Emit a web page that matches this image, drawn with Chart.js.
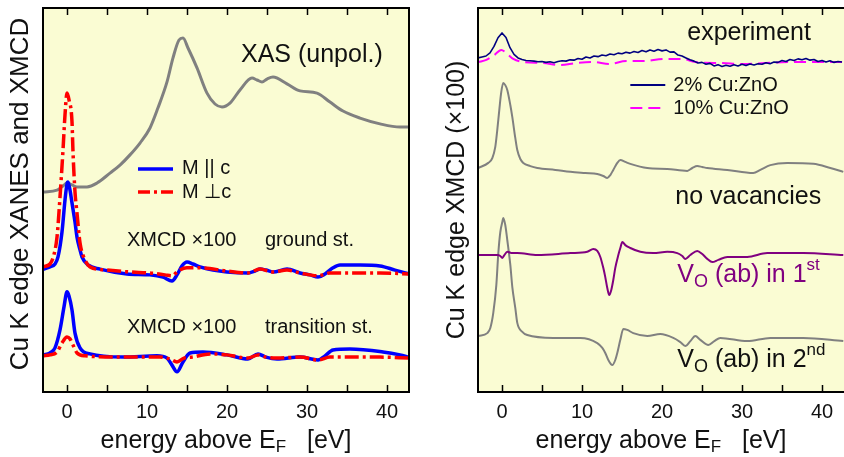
<!DOCTYPE html>
<html>
<head>
<meta charset="utf-8">
<script src="https://cdn.jsdelivr.net/npm/chart.js@4/dist/chart.umd.min.js"></script>
<style>
  html, body { margin: 0; padding: 0; background: #ffffff; }
  #wrap { position: relative; width: 844px; height: 457px; overflow: hidden; }
  .pane { position: absolute; top: 0; width: 422px; height: 457px; }
  #left { left: 0; }
  #right { left: 422px; }
</style>
</head>
<body>
<div id="wrap">
  <div class="pane" id="left"><canvas id="cLeft" width="422" height="457"></canvas></div>
  <div class="pane" id="right"><canvas id="cRight" width="422" height="457"></canvas></div>
</div>
<script>
// ---------- energy axis ----------
const tickValues = [0, 10, 20, 30, 40];
const minorTicks = [0, 5, 10, 15, 20, 25, 30, 35, 40];

// ---------- left panel: XANES + XMCD (offset, arb. units) ----------
const xasE = [-3, -1.25, -0.5, 0, 0.625, 1.25, 2.5, 3.75, 5.375, 6.625, 7.875, 9.125, 10.375, 11.375, 12.5, 13.25, 14, 14.5, 15.125, 16.25, 17.5, 18.5, 19.375, 20.375, 21.625, 23.125, 23.75, 24.375, 25, 25.75, 27.5, 29.125, 31.25, 32.875, 34.5, 36.625, 39.125, 41.625, 42.75];
const xasY = [6.25, 6.31, 6.44, 6.53, 6.47, 6.41, 6.41, 6.53, 6.84, 7.09, 7.41, 7.78, 8.25, 8.88, 9.69, 10.44, 11.0, 11.06, 10.75, 10.13, 9.34, 9.0, 8.91, 9.03, 9.44, 9.81, 9.75, 9.69, 9.78, 9.84, 9.63, 9.41, 9.34, 9.06, 8.78, 8.56, 8.38, 8.28, 8.28];

// ground state, M || c
const gsParE = [-3, -2.125, -1.5, -1.125, -0.625, -0.25, 0, 0.125, 0.375, 0.625, 1.0, 1.25, 1.625, 1.875, 2.625, 4.125, 7.5, 10.375, 12, 13.125, 13.75, 14.375, 15, 15.75, 16.625, 18.25, 20, 22.625, 23.5, 24.125, 24.875, 25.75, 27.5, 29.125, 30.375, 31.375, 32.25, 33.25, 34.125, 34.5, 36.625, 39.125, 41, 42.75];
const gsParY = [3.84, 3.91, 4.0, 4.22, 5.0, 6.0, 6.5, 6.56, 6.31, 5.91, 5.31, 4.84, 4.44, 4.22, 3.97, 3.84, 3.69, 3.66, 3.59, 3.47, 3.66, 3.94, 4.06, 4.0, 3.91, 3.81, 3.75, 3.72, 3.78, 3.84, 3.81, 3.75, 3.84, 3.72, 3.66, 3.59, 3.69, 3.88, 3.97, 3.97, 3.97, 3.94, 3.81, 3.69];

// ground state, M perpendicular to c
const gsPerpE = [-3, -2.125, -1.75, -1.25, -0.875, -0.5, -0.25, 0, 0.25, 0.625, 0.75, 1.0, 1.25, 1.625, 2.25, 2.875, 5, 7.875, 10.375, 12.25, 13.125, 13.875, 15, 16.625, 20, 22.625, 24.125, 25.75, 27.5, 29.125, 31.375, 32.875, 36.625, 39.125, 42.75];
const gsPerpY = [3.91, 4.0, 4.19, 4.84, 6.09, 7.56, 8.66, 9.34, 9.13, 8.44, 7.5, 6.25, 5.59, 4.66, 4.13, 3.91, 3.81, 3.75, 3.72, 3.66, 3.63, 3.78, 3.88, 3.88, 3.78, 3.72, 3.84, 3.75, 3.81, 3.72, 3.63, 3.72, 3.72, 3.72, 3.69];

// transition state, M || c
const tsParE = [-3, -2.125, -1.5, -0.875, -0.375, 0, 0.25, 0.625, 1.0, 1.625, 2.875, 7, 11.25, 12.5, 13.125, 13.75, 14.5, 15.375, 17, 20, 22.625, 23.875, 24.875, 26.25, 29.125, 31.375, 32.25, 33.25, 35.375, 39.5, 41.625, 42.75];
const tsParY = [1.16, 1.22, 1.38, 1.94, 2.66, 3.13, 3.0, 2.56, 1.84, 1.38, 1.19, 1.09, 1.13, 1.06, 0.84, 0.63, 0.94, 1.22, 1.25, 1.16, 1.03, 1.19, 1.09, 1.03, 1.09, 1.0, 1.13, 1.31, 1.34, 1.25, 1.16, 1.09];

// transition state, M perpendicular to c
const tsPerpE = [-3, -2.125, -1.25, -0.625, 0, 0.375, 0.75, 1.25, 2.25, 7, 11.625, 12.875, 13.75, 14.625, 15.625, 17.875, 20, 22.625, 23.875, 24.875, 26.25, 29.125, 31.375, 32.875, 36.625, 39.125, 42.75];
const tsPerpY = [1.13, 1.16, 1.25, 1.53, 1.72, 1.66, 1.47, 1.22, 1.13, 1.09, 1.09, 1.03, 0.94, 1.06, 1.09, 1.19, 1.16, 1.06, 1.16, 1.09, 1.06, 1.09, 1.0, 1.09, 1.09, 1.09, 1.06];

// ---------- right panel: XMCD x100 (offset, arb. units) ----------
const exp2E = [-3, -2.5, -2, -1.5, -1, -0.5, 0, 0.5, 1, 1.5, 2, 2.5, 3, 3.5, 4, 4.5, 5, 5.5, 6, 6.5, 7, 7.5, 8, 8.5, 9, 9.5, 10, 10.5, 11, 11.5, 12, 12.5, 13, 13.5, 14, 14.5, 15, 15.5, 16, 16.5, 17, 17.5, 18, 18.5, 19, 19.5, 20, 20.5, 21, 21.5, 22, 22.5, 23, 23.5, 24, 24.5, 25, 25.5, 26, 26.5, 27, 27.5, 28, 28.5, 29, 29.5, 30, 30.5, 31, 31.5, 32, 32.5, 33, 33.5, 34, 34.5, 35, 35.5, 36, 36.5, 37, 37.5, 38, 38.5, 39, 39.5, 40, 40.5, 41, 41.5, 42, 42.5];
const exp2Y = [10.44, 10.47, 10.50, 10.60, 10.80, 11.07, 11.22, 11.08, 10.76, 10.55,
               10.44, 10.39, 10.36, 10.35, 10.34, 10.32, 10.33, 10.30, 10.32, 10.29,
               10.33, 10.35, 10.34, 10.38, 10.37, 10.42, 10.40, 10.47, 10.44, 10.50,
               10.48, 10.53, 10.51, 10.56, 10.54, 10.59, 10.57, 10.62, 10.59, 10.64,
               10.61, 10.67, 10.63, 10.69, 10.65, 10.70, 10.66, 10.69, 10.62, 10.63,
               10.53, 10.50, 10.44, 10.38, 10.34, 10.28, 10.30, 10.24, 10.27, 10.19,
               10.23, 10.17, 10.21, 10.18, 10.23, 10.19, 10.24, 10.20, 10.25, 10.22,
               10.26, 10.24, 10.29, 10.26, 10.31, 10.30, 10.36, 10.33, 10.39, 10.36,
               10.41, 10.38, 10.42, 10.37, 10.39, 10.33, 10.36, 10.31, 10.35, 10.30,
               10.33, 10.31];

const exp10E = [-2.96, -1.96, -0.96, -0.09, 0.54, 1.41, 2.66, 5.16, 7.16, 9.29, 11.41, 13.41, 15.54, 17.66, 20.29, 22.54, 24.16, 27.54, 30.04, 32.91, 35.79, 38.29, 42.66];
const exp10Y = [10.31, 10.38, 10.53, 10.69, 10.59, 10.41, 10.31, 10.28, 10.22, 10.28, 10.31, 10.25, 10.34, 10.34, 10.41, 10.41, 10.31, 10.28, 10.25, 10.28, 10.31, 10.31, 10.31];

const noVacE = [-2.96, -1.71, -1.21, -0.84, -0.59, -0.34, -0.09, 0.16, 0.41, 0.66, 1.04, 1.29, 1.66, 1.91, 2.29, 2.66, 3.54, 4.41, 6.66, 8.54, 10.41, 11.91, 12.66, 13.16, 13.54, 13.91, 14.41, 14.79, 15.41, 16.04, 18.16, 20.66, 23.16, 23.79, 24.41, 25.04, 25.66, 28.16, 31.41, 32.29, 33.54, 35.66, 38.91, 41.04, 42.66];
const noVacY = [7.0, 7.16, 7.31, 7.66, 8.19, 8.81, 9.38, 9.66, 9.59, 9.44, 8.97, 8.59, 7.94, 7.56, 7.28, 7.16, 7.06, 7.0, 6.94, 6.88, 6.84, 6.81, 6.75, 6.69, 6.78, 6.94, 7.16, 7.25, 7.19, 7.13, 7.0, 6.97, 6.91, 7.0, 7.06, 7.03, 7.0, 6.94, 6.84, 6.94, 7.09, 7.16, 7.13, 7.0, 6.88];

const vo1E = [-2.96, -0.59, -0.21, 0.04, 0.29, 0.66, 1.29, 1.91, 4.41, 8.54, 10.66, 11.41, 11.91, 12.29, 12.66, 12.91, 13.16, 13.41, 13.66, 13.91, 14.16, 14.54, 14.79, 15.04, 15.41, 16.04, 17.29, 18.91, 20.66, 21.91, 22.54, 22.91, 23.54, 24.41, 25.04, 25.66, 26.29, 27.04, 28.16, 30.66, 33.16, 37.66, 42.66];
const vo1Y = [4.28, 4.28, 4.25, 4.19, 4.28, 4.38, 4.34, 4.34, 4.28, 4.34, 4.38, 4.47, 4.41, 4.22, 3.88, 3.59, 3.25, 3.03, 3.19, 3.5, 3.88, 4.28, 4.5, 4.69, 4.59, 4.5, 4.38, 4.34, 4.38, 4.34, 4.25, 4.16, 4.28, 4.41, 4.31, 4.16, 4.06, 4.13, 4.22, 4.22, 4.34, 4.34, 4.28];

const vo2E = [-2.96, -1.84, -1.46, -1.09, -0.71, -0.46, -0.21, 0.04, 0.16, 0.41, 0.66, 1.04, 1.29, 1.66, 1.91, 2.54, 3.16, 6.41, 9.79, 11.91, 12.54, 12.91, 13.29, 13.79, 14.16, 14.41, 14.79, 15.16, 15.66, 16.41, 18.16, 19.79, 21.41, 22.29, 22.91, 23.54, 24.16, 24.79, 25.79, 26.54, 27.29, 30.66, 33.54, 37.66, 42.66];
const vo2Y = [1.75, 1.84, 2.0, 2.47, 3.34, 4.34, 5.0, 5.31, 5.44, 5.22, 4.75, 3.97, 3.28, 2.63, 2.16, 1.88, 1.78, 1.69, 1.69, 1.53, 1.38, 1.22, 1.0, 0.84, 1.0, 1.22, 1.63, 1.97, 1.94, 1.84, 1.75, 1.81, 1.69, 1.56, 1.44, 1.59, 1.75, 1.63, 1.47, 1.59, 1.69, 1.59, 1.69, 1.69, 1.59];

// ---------- styling ----------
const FONT = '"Liberation Sans", Arial, Helvetica, sans-serif';
const PANEL_BG = '#FAFCD3';
const TEXT = '#111111';

function pts(xs, ys) { return xs.map((x, i) => ({ x: x, y: ys[i] })); }

function line(label, xs, ys, color, width, dash, smooth) {
  return {
    label: label,
    data: pts(xs, ys),
    borderColor: color,
    borderWidth: width,
    borderDash: dash || [],
    pointRadius: 0,
    fill: false,
    cubicInterpolationMode: smooth ? 'monotone' : 'default',
    tension: 0,
    borderCapStyle: 'butt',
    borderJoinStyle: 'round'
  };
}

// draws a run of text pieces left to right; each piece may be shifted/resized (sub/superscripts)
function richText(ctx, x, y, parts, color) {
  ctx.save();
  ctx.fillStyle = color || TEXT;
  ctx.textBaseline = 'middle';
  ctx.textAlign = 'left';
  let cx = x;
  parts.forEach(p => {
    ctx.font = p.size + 'px ' + FONT;
    ctx.fillText(p.t, cx, y + (p.dy || 0));
    cx += ctx.measureText(p.t).width;
  });
  ctx.restore();
  return cx - x;
}
function richWidth(ctx, parts) {
  let w = 0;
  ctx.save();
  parts.forEach(p => { ctx.font = p.size + 'px ' + FONT; w += ctx.measureText(p.t).width; });
  ctx.restore();
  return w;
}

function framePlugin(opts) {
  return {
    id: 'frame_' + opts.name,
    beforeDatasetsDraw(chart) {
      const a = chart.chartArea, ctx = chart.ctx;
      ctx.save();
      ctx.fillStyle = PANEL_BG;
      ctx.fillRect(a.left, a.top, a.right - a.left, a.bottom - a.top);
      ctx.restore();
    },
    afterDatasetsDraw(chart) {
      const a = chart.chartArea, ctx = chart.ctx;
      const xs = chart.scales.x, ys = chart.scales.y;
      ctx.save();
      // frame
      ctx.strokeStyle = '#000';
      ctx.lineWidth = 2;
      ctx.beginPath();
      if (opts.closedRight) {
        ctx.rect(a.left, a.top, a.right - a.left, a.bottom - a.top);
      } else {
        ctx.moveTo(a.right + 2, a.top); ctx.lineTo(a.left, a.top);
        ctx.lineTo(a.left, a.bottom); ctx.lineTo(a.right + 2, a.bottom);
      }
      ctx.stroke();
      // inward tick marks, top and bottom
      ctx.lineWidth = 1.5;
      ctx.beginPath();
      minorTicks.forEach(v => {
        const px = Math.round(xs.getPixelForValue(v)) + 0.5;
        ctx.moveTo(px, a.top); ctx.lineTo(px, a.top + 7);
        ctx.moveTo(px, a.bottom); ctx.lineTo(px, a.bottom - 7);
      });
      ctx.stroke();

      // legend swatches
      (opts.swatches || []).forEach(s => {
        ctx.save();
        ctx.strokeStyle = s.color; ctx.lineWidth = s.width; ctx.setLineDash(s.dash || []);
        ctx.beginPath();
        ctx.moveTo(xs.getPixelForValue(s.x0), ys.getPixelForValue(s.y));
        ctx.lineTo(xs.getPixelForValue(s.x1), ys.getPixelForValue(s.y));
        ctx.stroke();
        ctx.restore();
      });
      // annotations
      (opts.notes || []).forEach(n => {
        richText(ctx, xs.getPixelForValue(n.x), ys.getPixelForValue(n.y), n.parts, n.color);
      });

      // axis title below
      const tw = richWidth(ctx, opts.xTitle);
      richText(ctx, opts.xTitleCx - tw / 2, opts.xTitleY, opts.xTitle);
      // vertical axis title
      ctx.save();
      ctx.translate(opts.yTitleX, opts.yTitleCy);
      ctx.rotate(-Math.PI / 2);
      const yw = richWidth(ctx, opts.yTitle);
      richText(ctx, -yw / 2, 0, opts.yTitle);
      ctx.restore();
      ctx.restore();
    }
  };
}

function makeOptions(padLeft, padRight) {
  return {
    responsive: false,
    animation: false,
    events: [],
    layout: { padding: { left: padLeft, right: padRight, top: 8, bottom: 25 } },
    plugins: { legend: { display: false }, tooltip: { enabled: false } },
    scales: {
      x: {
        type: 'linear', min: -3, max: 42.75,
        grid: { display: false, drawTicks: false },
        border: { display: false },
        afterBuildTicks: (s) => { s.ticks = tickValues.map(v => ({ value: v })); },
        ticks: { color: TEXT, padding: 8, font: { family: FONT, size: 20 }, maxRotation: 0, autoSkip: false }
      },
      y: { type: 'linear', min: 0, max: 12, display: false }
    }
  };
}

const xTitleParts = [
  { t: 'energy above E', size: 25 },
  { t: 'F', size: 17, dy: 6 },
  { t: '   [eV]', size: 25 }
];

// ---------- left chart ----------
new Chart(document.getElementById('cLeft'), {
  type: 'line',
  data: {
    datasets: [
      line('M ⊥ c (transition st.)', tsPerpE, tsPerpY, '#FF0000', 3.5, [14, 4, 3, 4], true),
      line('M ⊥ c (ground st.)', gsPerpE, gsPerpY, '#FF0000', 3.5, [14, 4, 3, 4], true),
      line('M || c (transition st.)', tsParE, tsParY, '#0000FF', 3.5, [], true),
      line('M || c (ground st.)', gsParE, gsParY, '#0000FF', 3.5, [], true),
      line('XAS (unpol.)', xasE, xasY, '#808080', 3, [], true)
    ]
  },
  options: makeOptions(43, 13),
  plugins: [framePlugin({
    name: 'left',
    closedRight: true,
    swatches: [
      { x0: 8.875, x1: 13.25, y: 6.97, color: '#0000FF', width: 3.5 },
      { x0: 8.875, x1: 13.25, y: 6.25, color: '#FF0000', width: 3.5, dash: [12, 4, 3, 4] }
    ],
    notes: [
      { x: 21.75, y: 10.53, parts: [{ t: 'XAS (unpol.)', size: 25 }] },
      { x: 14.375, y: 6.97, parts: [{ t: 'M || c', size: 20 }] },
      { x: 14.375, y: 6.25, parts: [{ t: 'M \u22A5c', size: 20 }] },
      { x: 7.5, y: 4.75, parts: [{ t: 'XMCD \u00D7100', size: 20 }] },
      { x: 24.75, y: 4.75, parts: [{ t: 'ground st.', size: 20 }] },
      { x: 7.5, y: 2.03, parts: [{ t: 'XMCD \u00D7100', size: 20 }] },
      { x: 24.75, y: 2.03, parts: [{ t: 'transition st.', size: 20 }] }
    ],
    xTitle: xTitleParts, xTitleCx: 226, xTitleY: 441,
    yTitle: [{ t: 'Cu K edge XANES and XMCD', size: 26 }], yTitleX: 21, yTitleCy: 194
  })]
});

// ---------- right chart ----------
new Chart(document.getElementById('cRight'), {
  type: 'line',
  data: {
    datasets: [
      line('2% Cu:ZnO', exp2E, exp2Y, '#000080', 1.6, [], false),
      line('10% Cu:ZnO', exp10E, exp10Y, '#FF00FF', 2, [12, 6], true),
      line('no vacancies', noVacE, noVacY, '#808080', 2, [], true),
      line('VO (ab) in 1st', vo1E, vo1Y, '#800080', 2, [], true),
      line('VO (ab) in 2nd', vo2E, vo2Y, '#808080', 2, [], true)
    ]
  },
  options: makeOptions(56, 0),
  plugins: [framePlugin({
    name: 'right',
    closedRight: false,
    swatches: [
      { x0: 16.04, x1: 20.41, y: 9.59, color: '#000080', width: 2 },
      { x0: 16.04, x1: 20.41, y: 8.875, color: '#FF00FF', width: 2, dash: [12, 6] }
    ],
    notes: [
      { x: 23.16, y: 11.22, parts: [{ t: 'experiment', size: 25 }] },
      { x: 21.41, y: 9.59, parts: [{ t: '2% Cu:ZnO', size: 20 }] },
      { x: 21.41, y: 8.875, parts: [{ t: '10% Cu:ZnO', size: 20 }] },
      { x: 21.66, y: 6.09, parts: [{ t: 'no vacancies', size: 25 }] },
      { x: 21.91, y: 3.66, color: '#800080', parts: [
        { t: 'V', size: 25 }, { t: 'O', size: 18, dy: 7 }, { t: ' (ab) in 1', size: 25 }, { t: 'st', size: 17, dy: -10 }
      ] },
      { x: 21.91, y: 1.0, parts: [
        { t: 'V', size: 25 }, { t: 'O', size: 18, dy: 7 }, { t: ' (ab) in 2', size: 25 }, { t: 'nd', size: 17, dy: -10 }
      ] }
    ],
    xTitle: xTitleParts, xTitleCx: 661 - 422, xTitleY: 441,
    yTitle: [{ t: 'Cu K edge XMCD (\u00D7100)', size: 25 }], yTitleX: 457 - 422, yTitleCy: 200
  })]
});
</script>
</body>
</html>
